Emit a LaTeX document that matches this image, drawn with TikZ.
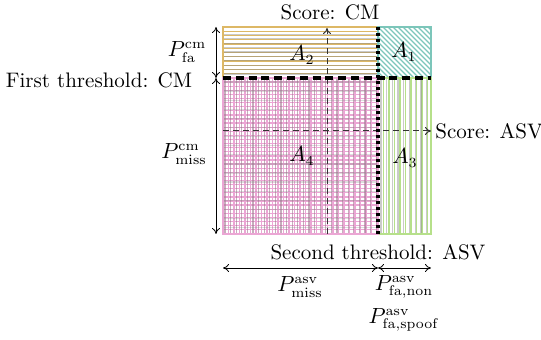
\documentclass[tikz,border=0pt]{standalone}
\usetikzlibrary{arrows.meta}
\definecolor{goldA}{HTML}{DDB866}
\definecolor{tealA}{HTML}{7CC6BA}
\definecolor{greenA}{HTML}{B6E08A}
\definecolor{pinkA}{HTML}{EBA6D4}
\definecolor{greyA}{HTML}{8A8A8A}
\definecolor{mauveA}{HTML}{A07890}
\begin{document}
\begin{tikzpicture}[x=0.5pt,y=-0.5pt,
  font=\fontsize{10.5}{12.5}\selectfont,
  hatch/.style={line width=0.65pt},
  overlay grey/.style={line width=0.65pt, greyA, opacity=0.45},
  measure/.style={{To[length=3pt,width=4pt]}-{To[length=3pt,width=4pt]}, line width=0.4pt},
  axis/.style={-{To[length=3pt,width=4pt]}, densely dashed, line width=0.5pt, black!80},
  cmthr/.style={line width=1.6pt, dash pattern=on 4pt off 2.4pt},
  asvthr/.style={line width=1.8pt, dash pattern=on 1.5pt off 1.5pt},
  lbl/.style={inner sep=1pt}]
\useasboundingbox (0,0) rectangle (541,340);

% corners of the score plane and the two thresholds
\coordinate (tl) at (223,27);
\coordinate (tr) at (431,27);
\coordinate (bl) at (223,234);
\coordinate (br) at (431,234);
\coordinate (tt) at (378,27);
\coordinate (tb) at (378,234);
\coordinate (hl) at (223,78);
\coordinate (hr) at (431,78);
\coordinate (cc) at (378,78);

% A2: horizontal lines
\foreach \i in {0,...,12}
  \draw[hatch, goldA] (223,27+\i*4.25) -- (378,27+\i*4.25);
\foreach \i in {1,...,10}
  \draw[overlay grey] (223,30+\i*4.4) -- (378,30+\i*4.4);

% A1: diagonal hatching
\begin{scope}
  \clip (tt) rectangle (hr);
  \foreach \k in {-60,-55,...,60}
    \draw[hatch, tealA] (378+\k,27) -- ++(60,60);
\end{scope}

% A4: grid
\foreach \i in {0,...,28}
  \draw[hatch, pinkA] (223+\i*5.5,78) -- (223+\i*5.5,234);
\foreach \i in {0,...,38}
  \draw[hatch, pinkA] (223,78+\i*4.1) -- (378,78+\i*4.1);
\foreach \i in {0,...,27}
  \draw[hatch, mauveA, opacity=0.6] (225+\i*5.6,78) -- (225+\i*5.6,234);
\foreach \i in {0,...,16}
  \draw[overlay grey, opacity=0.3] (223,82+\i*9.1) -- (378,82+\i*9.1);

% A3: vertical lines
\foreach \i in {0,...,9}
  \draw[hatch, greenA] (378+\i*5.5,78) -- (378+\i*5.5,234);
\foreach \i in {0,...,8}
  \draw[overlay grey] (381+\i*5.7,78) -- (381+\i*5.7,234);

% region outlines
\draw[line width=0.9pt, goldA] (tl) rectangle (cc);
\draw[line width=0.9pt, tealA] (tt) rectangle (hr);
\draw[line width=0.9pt, greenA] (cc) rectangle (br);
\draw[line width=0.9pt, pinkA] (hl) rectangle (tb);

% score axes
\coordinate (ax0) at (327,234);
\coordinate (ax1) at (327,28);
\coordinate (ay0) at (223,131);
\coordinate (ay1) at (431,131);
\draw[axis] (ax0) -- (ax1);
\draw[axis] (ay0) -- (ay1);

% thresholds
\draw[cmthr] (hl) -- (hr);
\draw[asvthr] (tt) -- (tb);

% region names
\node[lbl] (a2) at (302,55) {$A_2$};
\node[lbl] (a1) at (404,52) {$A_1$};
\node[lbl] (a4) at (302,156) {$A_4$};
\node[lbl] (a3) at (405,158) {$A_3$};

% axis and threshold captions
\node[lbl, anchor=west] (sasv) at (433,131) {Score: ASV};
\node[lbl] (scm) at (330,12) {Score: CM};
\node[lbl] (fth) at (99,80) {First threshold: CM};
\node[lbl] (sth) at (378,252) {Second threshold: ASV};

% error-rate spans on the left
\coordinate (l0) at (216,27);
\coordinate (l1) at (216,78);
\coordinate (l2) at (216,234);
\draw[measure] (l0) -- (l1);
\draw[measure] (l1) -- (l2);
\node[lbl] (pfacm) at (187,52) {$P_{\mathrm{fa}}^{\mathrm{cm}}$};
\node[lbl] (pmisscm) at (184,154) {$P_{\mathrm{miss}}^{\mathrm{cm}}$};

% error-rate spans at the bottom
\coordinate (b0) at (223,268);
\coordinate (b1) at (378,268);
\coordinate (b2) at (431,268);
\draw[measure] (b0) -- (b1);
\draw[measure] (b1) -- (b2);
\node[lbl] (pmissasv) at (300,287) {$P_{\mathrm{miss}}^{\mathrm{asv}}$};
\node[lbl] (pfanon) at (404,287) {$P_{\mathrm{fa,non}}^{\mathrm{asv}}$};
\node[lbl] (pfaspoof) at (404,320) {$P_{\mathrm{fa,spoof}}^{\mathrm{asv}}$};
\end{tikzpicture}
\end{document}
